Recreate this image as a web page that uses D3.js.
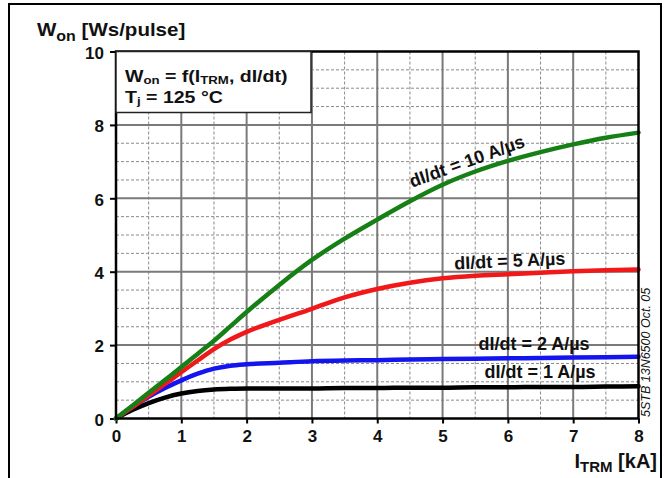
<!DOCTYPE html>
<html>
<head>
<meta charset="utf-8">
<script src="https://cdn.jsdelivr.net/npm/d3@7/dist/d3.min.js"></script>
<style>
  html, body { margin: 0; padding: 0; background: #fff; }
  svg { display: block; }
  text { font-family: "Liberation Sans", Arial, sans-serif; font-weight: bold; fill: #111; }
</style>
</head>
<body>
<svg id="chart" width="668" height="478"></svg>
<script>
// ---- data ----
const currentKA = [0, 0.25, 0.5, 0.75, 1, 1.25, 1.5, 1.75, 2, 2.5, 3, 3.5, 4, 4.5, 5, 5.5, 6, 6.5, 7, 7.5, 8];
const won10 = [0, 0.35, 0.70, 1.05, 1.40, 1.76, 2.12, 2.51, 2.90, 3.64, 4.32, 4.90, 5.42, 5.92, 6.37, 6.73, 7.02, 7.26, 7.47, 7.65, 7.79];
const won5  = [0, 0.31, 0.62, 0.94, 1.26, 1.58, 1.89, 2.15, 2.36, 2.69, 2.99, 3.30, 3.53, 3.70, 3.82, 3.89, 3.93, 3.97, 4.01, 4.04, 4.06];
const won2  = [0, 0.31, 0.59, 0.83, 1.04, 1.22, 1.36, 1.44, 1.48, 1.52, 1.56, 1.58, 1.59, 1.61, 1.62, 1.63, 1.64, 1.65, 1.66, 1.67, 1.68];
const won1  = [0, 0.23, 0.42, 0.57, 0.68, 0.75, 0.79, 0.81, 0.82, 0.82, 0.82, 0.83, 0.83, 0.84, 0.84, 0.85, 0.85, 0.86, 0.86, 0.87, 0.88];
const seriesNames = ["dI/dt = 1 A/\u00b5s", "dI/dt = 2 A/\u00b5s", "dI/dt = 5 A/\u00b5s", "dI/dt = 10 A/\u00b5s"];
const seriesColors = ["#000000", "#1414f0", "#f01818", "#168016"];
const xTickLabels = ["0", "1", "2", "3", "4", "5", "6", "7", "8"];
const yTickLabels = ["0", "2", "4", "6", "8", "10"];

(function () {
const svg = d3.select("#chart");
const W = 668, H = 478;
const pL = 116, pR = 638.5, pT = 51.5, pB = 418.5;

const x = d3.scaleLinear().domain([0, 8]).range([pL, pR]);
const y = d3.scaleLinear().domain([0, 10]).range([pB, pT]);

svg.append("rect").attr("width", W).attr("height", H).attr("fill", "#fff");
// outer frame
svg.append("rect").attr("x", 9).attr("y", 4).attr("width", 652).attr("height", 500)
  .attr("fill", "none").attr("stroke", "#000").attr("stroke-width", 2);

// minor grid
const g = svg.append("g");
d3.range(0.5, 8, 1).forEach(v => {
  g.append("line").attr("x1", x(v)).attr("x2", x(v)).attr("y1", pT).attr("y2", pB)
    .attr("stroke", "#8a8a8a").attr("stroke-width", 1).attr("stroke-dasharray", "3,2");
});
d3.range(0.5, 10, 0.5).filter(v => Math.abs(v / 2 - Math.round(v / 2)) > 1e-6).forEach(v => {
  g.append("line").attr("x1", pL).attr("x2", pR).attr("y1", y(v)).attr("y2", y(v))
    .attr("stroke", "#8a8a8a").attr("stroke-width", 1).attr("stroke-dasharray", "3,2");
});
// major grid
d3.range(1, 8).forEach(v => {
  g.append("line").attr("x1", x(v)).attr("x2", x(v)).attr("y1", pT).attr("y2", pB)
    .attr("stroke", "#7a7a7a").attr("stroke-width", 2);
});
d3.range(2, 10, 2).forEach(v => {
  g.append("line").attr("x1", pL).attr("x2", pR).attr("y1", y(v)).attr("y2", y(v))
    .attr("stroke", "#7a7a7a").attr("stroke-width", 2);
});

// axes (ticks + labels)
const xAxis = d3.axisBottom(x).tickValues(d3.range(0, 9)).tickSize(5).tickPadding(6)
  .tickFormat((d, i) => xTickLabels[i]);
const gx = svg.append("g").attr("transform", `translate(0,${pB})`).call(xAxis);
gx.select(".domain").remove();
gx.selectAll("line").attr("stroke", "#000").attr("stroke-width", 2);
gx.selectAll("text").style("font-size", "17px").style("font-weight", "bold").attr("fill", "#111")
  .attr("font-family", "Liberation Sans, Arial, sans-serif");

const yAxis = d3.axisLeft(y).tickValues(d3.range(0, 11, 2)).tickSize(6).tickPadding(6)
  .tickFormat((d, i) => yTickLabels[i]);
const gy = svg.append("g").attr("transform", `translate(${pL},0)`).call(yAxis);
gy.select(".domain").remove();
gy.selectAll("line").attr("stroke", "#000").attr("stroke-width", 2);
gy.selectAll("text").style("font-size", "17px").style("font-weight", "bold").attr("fill", "#111")
  .attr("font-family", "Liberation Sans, Arial, sans-serif").attr("dy", "0.4em");

// curves
const seriesValues = [won1, won2, won5, won10];
const line = d3.line().x(d => x(d[0])).y(d => y(d[1])).curve(d3.curveMonotoneX);
seriesValues.forEach((vals, i) => {
  svg.append("path").datum(currentKA.map((c, k) => [c, vals[k]]))
    .attr("d", line).attr("fill", "none").attr("stroke", seriesColors[i])
    .attr("stroke-width", 4.5).attr("stroke-linecap", "round");
});

// plot border
svg.append("rect").attr("x", pL).attr("y", pT).attr("width", pR - pL).attr("height", pB - pT)
  .attr("fill", "none").attr("stroke", "#000").attr("stroke-width", 2.5);

// legend box
svg.append("rect").attr("x", pL).attr("y", pT).attr("width", 195).attr("height", 61)
  .attr("fill", "#fff").attr("stroke", "#222").attr("stroke-width", 1.5);
const l1 = svg.append("text").attr("transform", "translate(125,82) scale(1.15,1)").style("font-size", "17px");
l1.append("tspan").text("W");
l1.append("tspan").attr("dy", 2).style("font-size", "11.5px").text("on");
l1.append("tspan").attr("dy", -2).text(" = f(I");
l1.append("tspan").attr("dy", 2).style("font-size", "11.5px").text("TRM");
l1.append("tspan").attr("dy", -2).text(", dI/dt)");
const l2 = svg.append("text").attr("transform", "translate(125,103) scale(1.15,1)").style("font-size", "17px");
l2.append("tspan").text("T");
l2.append("tspan").attr("dy", 2).style("font-size", "11.5px").text("j");
l2.append("tspan").attr("dy", -2).text(" = 125 \u00b0C");

// y title
const yt = svg.append("text").attr("transform", "translate(37,36) scale(1.14,1)").style("font-size", "18px");
yt.append("tspan").text("W");
yt.append("tspan").attr("dy", 5).style("font-size", "14px").text("on");
yt.append("tspan").attr("dy", -5).text(" [Ws/pulse]");

// x title
const xt = svg.append("text").attr("x", 657).attr("y", 468).attr("text-anchor", "end").style("font-size", "20px");
xt.append("tspan").text("I");
xt.append("tspan").attr("dy", 4).style("font-size", "15px").text("TRM");
xt.append("tspan").attr("dy", -4).text(" [kA]");

// curve labels
const labelPos = [
  {t: seriesNames[3], x: 469, y: 167, r: -20},
  {t: seriesNames[2], x: 510, y: 267, r: -2.5},
  {t: seriesNames[1], x: 534, y: 350, r: 0},
  {t: seriesNames[0], x: 540, y: 378, r: 0}
];
labelPos.forEach(p => {
  svg.append("text").attr("transform", `translate(${p.x},${p.y}) rotate(${p.r})`)
    .attr("text-anchor", "middle").style("font-size", "18px").text(p.t);
});

// side note
svg.append("text").attr("transform", "translate(649.5,417) rotate(-90)")
  .style("font-size", "12.5px").style("font-weight", "normal").style("font-style", "italic")
  .text("5STB 13N6500 Oct. 05");
})();
</script>
</body>
</html>
